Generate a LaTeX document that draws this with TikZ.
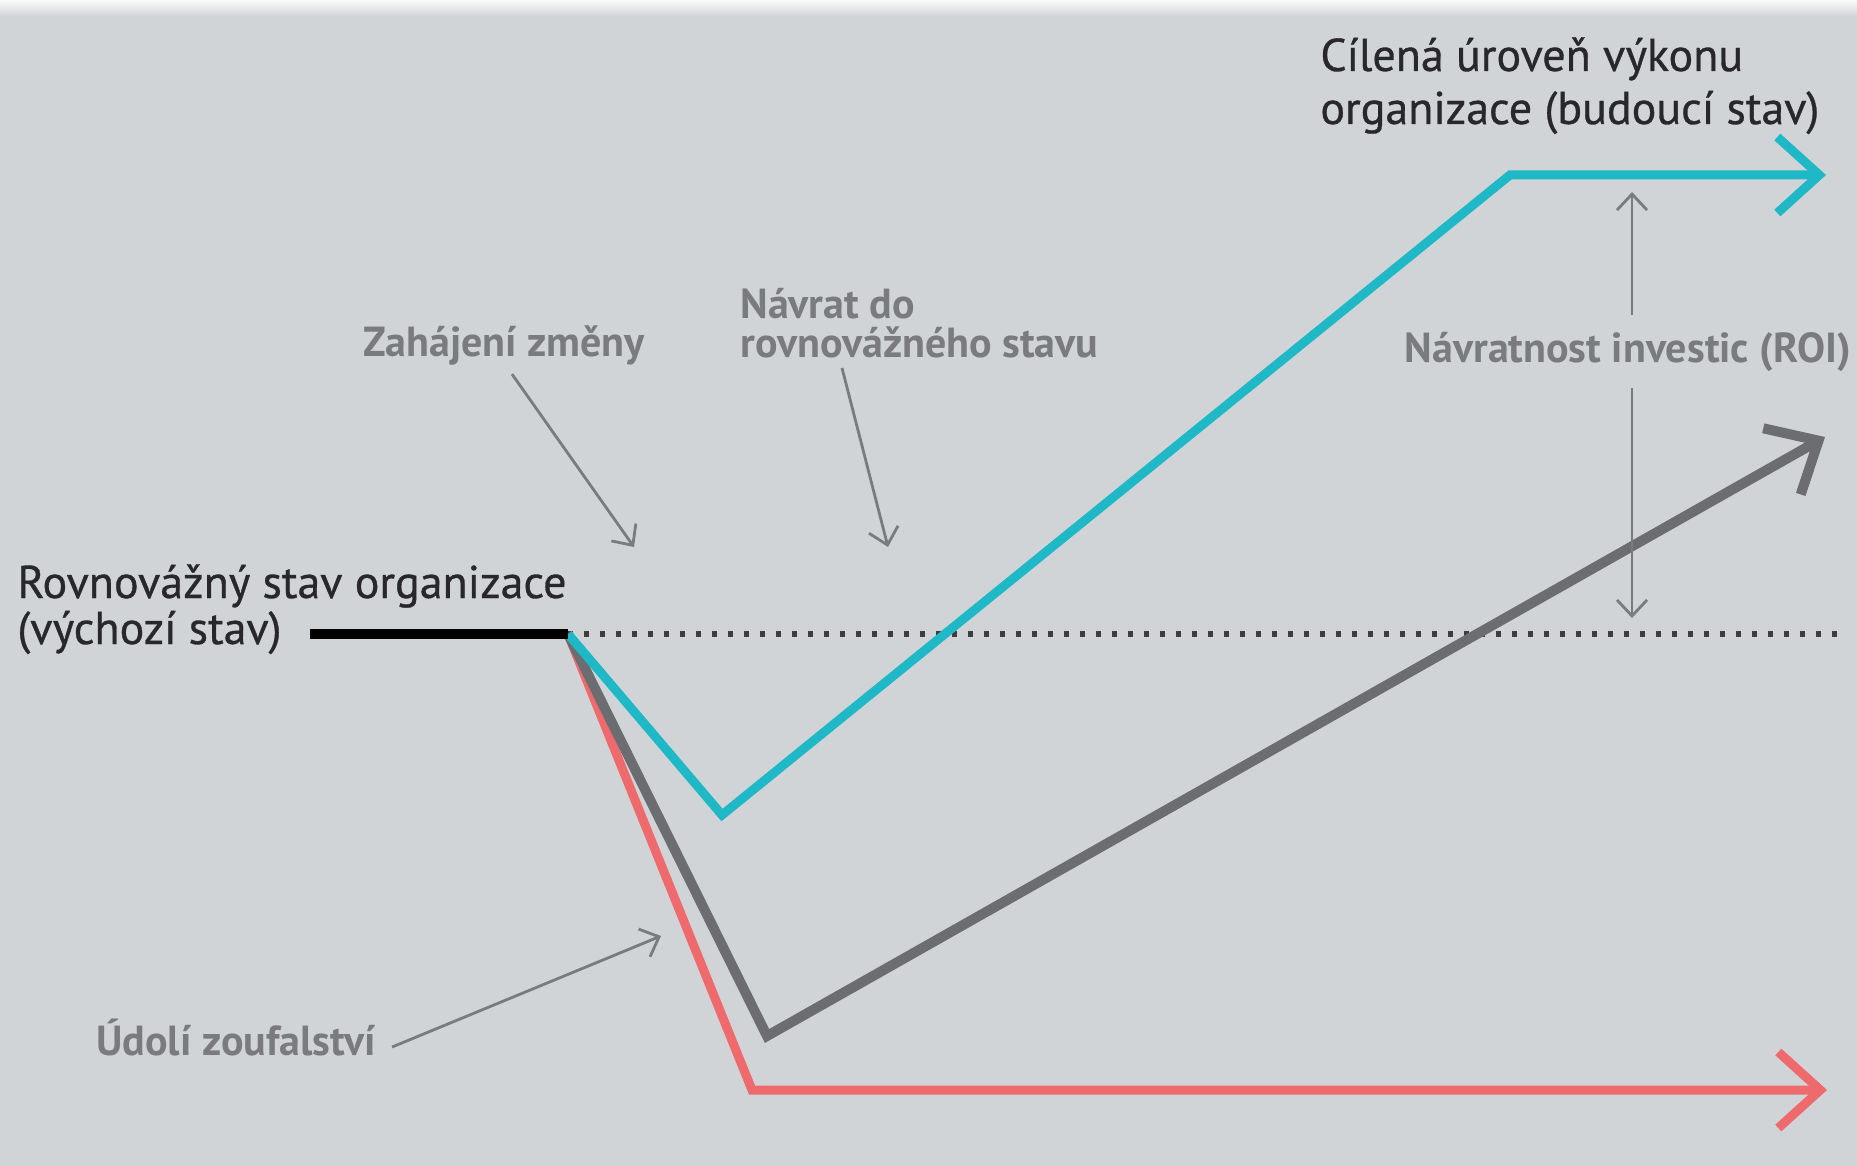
\documentclass[tikz,border=0pt]{standalone}
\usepackage{fontspec}
\setmainfont{PT Sans}
\newfontfamily\headfont[FakeBold=0.7]{PT Sans}
\usetikzlibrary{arrows.meta}

\definecolor{panel}{RGB}{209,212,215}
\definecolor{ink}{RGB}{40,40,44}
\definecolor{note}{RGB}{122,123,127}
\definecolor{goal}{RGB}{30,184,198}
\definecolor{fall}{RGB}{238,106,108}
\definecolor{slow}{RGB}{108,109,112}

\begin{document}
\begin{tikzpicture}[x=0.5pt,y=-0.5pt,
  heading/.style={text=ink,font=\headfont\fontsize{23}{26.5}\selectfont,align=left,inner sep=0pt},
  remark/.style={text=note,font=\bfseries\fontsize{21}{19.5}\selectfont,align=left,inner sep=0pt},
  hint/.style={draw=note,line width=1.4pt,-{Straight Barb[length=8pt,width=15pt]}},
  trend/.style={line width=4.5pt,-{Straight Barb[length=21pt,width=38pt]}}]
% background
\fill[panel] (0,0) rectangle (1857,1166);
\shade[top color=white!90!panel,bottom color=panel] (0,0) rectangle (1857,16);

% corners of the three paths
\coordinate (base) at (310,634);
\coordinate (start) at (568,634);
\coordinate (dotend) at (1845,634);
\coordinate (goallow) at (722,815);
\coordinate (goalhigh) at (1510,175);
\coordinate (goaltip) at (1826,175);
\coordinate (slowlow) at (767,1036);
\coordinate (slowtip) at (1825,437);
\coordinate (falllow) at (752,1090);
\coordinate (falltip) at (1827,1090);

\draw[note!50!black,line width=2.6pt,dash pattern=on 2.6pt off 5.4pt] (start) -- (dotend);
\draw[trend,fall] (start) -- (falllow) -- (falltip);
\draw[trend,slow,line width=5pt] (start) -- (slowlow) -- (slowtip);
\draw[trend,goal] (start) -- (goallow) -- (goalhigh) -- (goaltip);
\draw[black,line width=5pt] (base) -- (start);

% texts (base = last line)
\node[heading,anchor=base west] (now) at (17,644) {Rovnovážný stav organizace\\[-3.5pt](výchozí stav)};
\node[heading,anchor=base west] (future) at (1320,124) {Cílená úroveň výkonu\\organizace (budoucí stav)};

\node[remark,anchor=base] (change) at (504,356) {Zahájení změny};
\node[remark,anchor=base west] (back) at (740,357) {Návrat do\\rovnovážného stavu};
\node[remark,anchor=base west] (valley) at (96,1055) {Údolí zoufalství};
\node[remark,anchor=base,inner ysep=8pt] (roi) at (1628,362) {Návratnost investic (ROI)};

% pointers
\coordinate (changetip) at (634,547);
\coordinate (backtip) at (888,547);
\coordinate (valleytip) at (661,936);
\coordinate (roitop) at (1632,192);
\coordinate (roibot) at (1632,618);
\draw[hint] ([xshift=4pt,yshift=-4.5pt]change.south) -- (changetip);
\draw[hint] ([xshift=51pt,yshift=-5pt]back.south west) -- (backtip);
\draw[hint] ([xshift=8pt,yshift=-5pt]valley.east) -- (valleytip);
\draw[hint] (roi.north -| roitop) -- (roitop);
\draw[hint] (roi.south -| roibot) -- (roibot);
\end{tikzpicture}
\end{document}
